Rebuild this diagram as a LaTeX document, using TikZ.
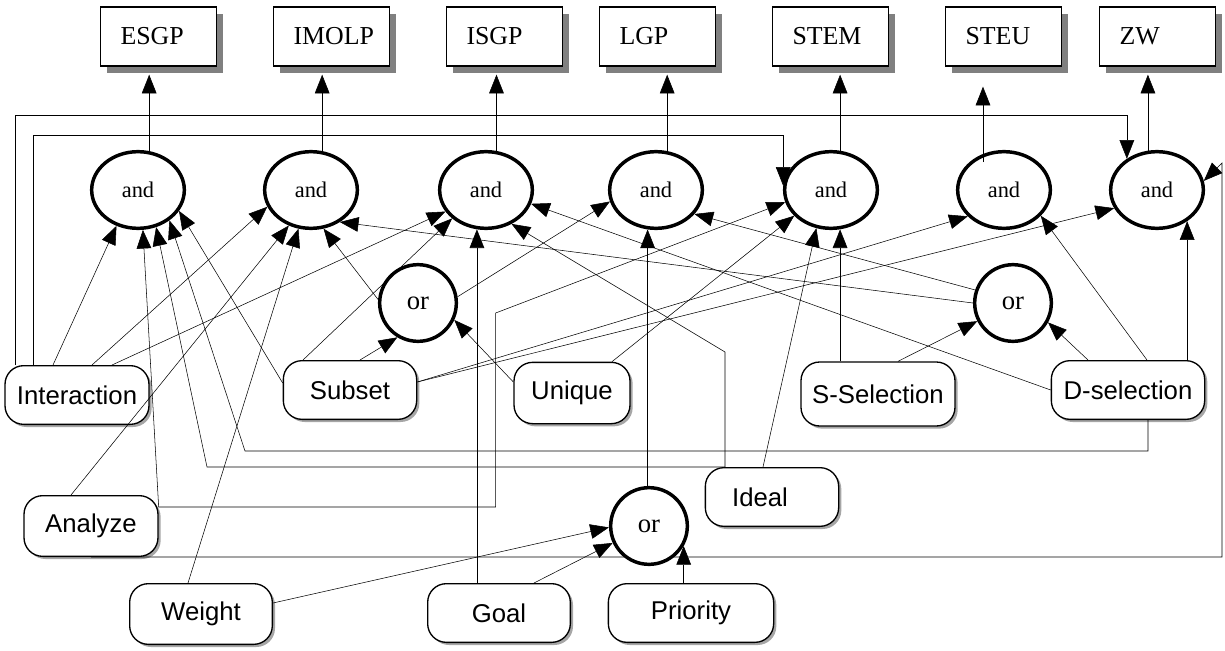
\documentclass[tikz,border=0pt]{standalone}
\usepackage{fontspec}
\setmainfont{Liberation Serif}
\newfontfamily\arialfont{Liberation Sans}
\usetikzlibrary{arrows.meta,calc,shapes.geometric,shadows}
\pgfdeclarelayer{front}
\pgfsetlayers{main,front}

\tikzset{every picture/.style={line width=1pt}}
\tikzset{
	arr/.style={-{Triangle[length=14pt,width=11pt]}},
	goalbox/.style={draw, line width=1.25pt, fill=white, text width=57pt, inner xsep=15pt, minimum height=44pt, align=left, font=\fontsize{19.4}{22}\selectfont, drop shadow={shadow xshift=5pt, shadow yshift=-5pt, opacity=1, fill=gray}},
	pill/.style={draw, fill=white, rounded corners=14pt, minimum height=44pt, inner sep=0pt, font=\arialfont\fontsize{19.3}{22}\selectfont, drop shadow={shadow xshift=2pt, shadow yshift=-2pt, opacity=1, fill=gray!70}},
	andnode/.style={draw, ellipse, fill=white, line width=2.6pt, minimum width=69.5pt, minimum height=57.5pt, inner sep=0pt, font=\fontsize{16.8}{20}\selectfont},
	ornode/.style={andnode, minimum width=57.5pt, font=\fontsize{20}{22}\selectfont}
}

\begin{document}
\begin{tikzpicture}[x=0.75pt,y=0.75pt,yscale=-1,xscale=1]
	\useasboundingbox (0,0) rectangle (1225,650);

	\node[goalbox] (esgp) at (158.5,36.5) {ESGP};
	\node[goalbox] (imolp) at (331.5,36.5) {IMOLP};
	\node[goalbox] (isgp) at (504.5,36.5) {ISGP};
	\node[goalbox] (lgp) at (657.5,36.5) {LGP};
	\node[goalbox] (stem) at (830.5,36.5) {STEM};
	\node[goalbox] (steu) at (1003.5,36.5) {STEU};
	\node[goalbox] (zw) at (1157.5,36.5) {ZW};

	\node[pill, minimum width=108pt] (intr) at (77,395) {Interaction};
	\node[pill, minimum width=100pt] (sub) at (350,390) {Subset};
	\node[pill, minimum width=87pt, minimum height=46pt] (uniq) at (572,393) {Unique};
	\node[pill, minimum width=115.5pt, minimum height=48pt] (ssel) at (878,394) {S-Selection};
	\node[pill, minimum width=115pt] (dsel) at (1128,390) {D-selection};
	\node[pill, minimum width=100.5pt, minimum height=45.5pt] (anlz) at (91,526) {Analyze};
	\node[pill, minimum width=107pt, minimum height=45.5pt] (wgt) at (201,614) {Weight};
	\node[pill, minimum width=107pt] (goal) at (499,613) {Goal};
	\node[pill, minimum width=124pt] (prio) at (691,613) {Priority};
	\node[pill, minimum width=100pt] (ideal) at (772,497) {Ideal\hspace*{18pt}};

	\begin{pgfonlayer}{front}
	\node[andnode] (and1) at (138,190) {and};
	\node[andnode] (and2) at (311,190) {and};
	\node[andnode] (and3) at (486,190) {and};
	\node[andnode] (and4) at (656,190) {and};
	\node[andnode] (and5) at (831,190) {and};
	\node[andnode] (and6) at (1004,190) {and};
	\node[andnode] (and7) at (1157,190) {and};
	\node[ornode] (or1) at (418,303) {or};
	\node[ornode] (or2) at (1013,303) {or};
	\node[ornode] (or3) at (649,526) {or};
	\coordinate (s6) at ($(and6)+(-21,-28)$);
	\draw[arr, shorten >=15pt] (s6) -- (s6 |- steu.south);
	\end{pgfonlayer}

	\draw[arr, shorten >=6pt] (and1.74) -- (and1.74 |- esgp.south);
	\draw[arr, shorten >=6pt] (and2.74) -- (and2.74 |- imolp.south);
	\draw[arr, shorten >=6pt] (and3.75) -- (and3.75 |- isgp.south);
	\draw[arr, shorten >=6pt] (and4.74) -- (and4.74 |- lgp.south);
	\draw[arr, shorten >=6pt] (and5.77) -- (and5.77 |- stem.south);
	\draw[arr, shorten >=6pt] (and7.103) -- (and7.103 |- zw.south);

	\draw[arr] ($(intr.north)+(-24,0)$) -- (and1.-121);
	\draw[arr] ($(intr.north)+(15,0)$) -- (and2.-159);
	\draw[arr] ($(intr.north)+(35,0)$) -- (and3.-152);
	\draw[arr] ($(intr.north)+(-44,0)$) -- ++(0,-230) -| (and5.175);
	\draw[arr] ($(intr.north)+(-62,0)$) -- ++(0,-250) -| (and7.134);

	\draw[arr] ($(anlz.east)+(0,-19)$) -- (and1.-83);
	\draw[arr] ($(anlz.east)+(0,-19)$) -- ++(337,0) -- ++(0,-194) -- (and5.-165);
	\draw[arr] ($(anlz.north)+(-20,0)$) -- (and2.-122);
	\draw[arr] (anlz.south) -- ++(1131,0) -- ++(0,-394) -- (and7.11);

	\draw[arr] ($(ideal.north)+(-47,0)$) -- ++(-518,0) -- (and1.-64);
	\draw[arr] ($(ideal.north)+(-47,0)$) -- ++(0,-115) -- (and3.-53);
	\draw[arr] ($(ideal.north)+(-9,0)$) -- (and5.-111);

	\draw[arr] ($(sub.west)+(0,-7)$) -- (and1.-27);
	\draw[arr] ($(sub.north)+(-47,0)$) -- (and3.-140);
	\draw[arr] ($(sub.north)+(10,0)$) -- (or1.-121);
	\draw[arr] ($(sub.east)+(0,-8)$) -- (and6.-144);
	\draw[arr] ($(sub.east)+(0,-8)$) -- (and7.-157);

	\draw[arr] ($(uniq.west)+(0,-11)$) -- (or1.-25);
	\draw[arr] ($(uniq.north)+(40,0)$) -- (and5.-145);

	\draw[arr] (and5.-77 |- ssel.north) -- (and5.-77);
	\draw[arr] ($(ssel.north)+(20,0)$) -- (or2.-153);

	\draw[arr] (dsel.west) -- (and3.-17);
	\draw[arr] ($(dsel.north)+(19,0)$) -- (and6.-35);
	\draw[arr] ($(dsel.north)+(-40,0)$) -- (or2.-29);
	\draw[arr] (and7.-46 |- dsel.north) -- (and7.-46);
	\draw[arr] ($(dsel.south)+(20,0)$) -- ++(0,31) -- ++(-903,0) -- (and1.-44);

	\draw[arr] ($(wgt.north)+(-13,0)$) -- (and2.-108);
	\draw[arr] ($(wgt.east)+(0,-11)$) -- (or3.182);
	\draw[arr] (and3.-103 |- goal.north) -- (and3.-103);
	\draw[arr] ($(goal.north)+(35,0)$) -- (or3.-155);
	\draw[arr] (or3.-30 |- prio.north) -- (or3.-30);

	\draw[arr] (or1.175) -- (and2.-72);
	\draw[arr] (or1.9) -- (and4.-166);
	\draw[arr] (or2.180) -- (and2.-48);
	\draw[arr] (or2.161) -- (and4.-32);
	\draw[arr] (and4.-102 |- or3.north) -- (and4.-102);
\end{tikzpicture}
\end{document}
